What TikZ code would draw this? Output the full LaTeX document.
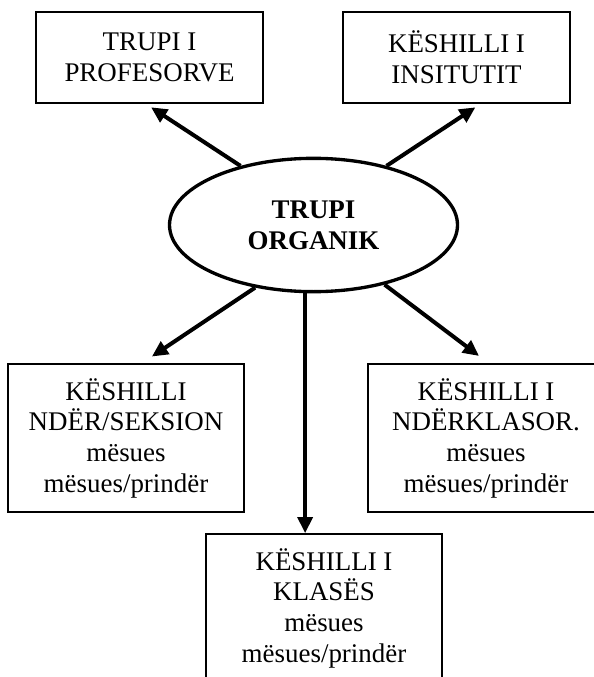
\documentclass[tikz,border=0pt]{standalone}
\usepackage{fontspec}
\setmainfont{Liberation Serif}
\usepackage{tikz}
\usetikzlibrary{arrows.meta,shapes.geometric,positioning}

\begin{document}
\begin{tikzpicture}[x=0.75pt, y=-0.75pt,
    box/.style={draw, line width=1.2pt, align=center, inner sep=0pt, font=\fontsize{20.2}{23}\selectfont},
    topbox/.style={box, minimum width=170pt, minimum height=68pt},
    lowbox/.style={box, minimum width=177pt, minimum height=111pt},
    link/.style={line width=3pt, -{Triangle[length=12pt, width=11pt]}}]
            \useasboundingbox (0,0) rectangle (593,677);
            \node[topbox] (profesor) at (149.5,57.5) {TRUPI I\\PROFESORVE};
            \node[topbox] (instituti) at (456.5,57.5) {KËSHILLI I\\INSITUTIT};
            \node[draw, ellipse, line width=2.5pt, minimum width=216pt, minimum height=100pt, inner sep=0pt, align=center,
                  font=\bfseries\fontsize{20.2}{23}\selectfont] (organik) at (313.5,225) {TRUPI\\ORGANIK};
            \node[lowbox] (seksion) at (126,438) {KËSHILLI\\NDËR/SEKSION\\mësues\\mësues/prindër};
            \node[lowbox] (klasor) at (486,438) {KËSHILLI I\\NDËRKLASOR.\\mësues\\mësues/prindër};
            \node[lowbox] (klase) at (324,608) {KËSHILLI I\\KLASËS\\mësues\\mësues/prindër};
            
            \draw[link, shorten >=5pt] (organik.141) -- (profesor.265);
            \draw[link, shorten >=5pt] (organik.39) -- (instituti.298);
            \draw[link, shorten >=9pt] (organik.227) -- (seksion.78);
            \draw[link, shorten >=9pt] (organik.320) -- (klasor.88);
            \draw[link] (organik.263) -- (organik.263 |- klase.north);
        \end{tikzpicture}
\end{document}
